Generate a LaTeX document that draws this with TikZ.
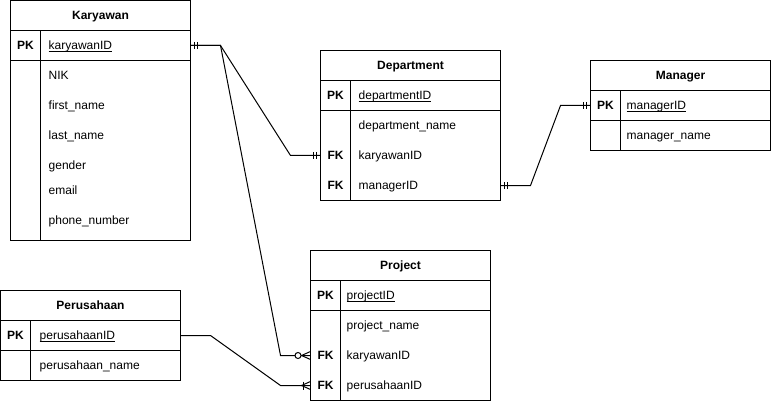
\documentclass[tikz,border=0pt]{standalone}
\usepackage{fontspec}
\setmainfont{Liberation Sans}
\newcommand{\ErFont}{\fontsize{12pt}{14pt}\selectfont}
\newcommand{\KeyName}[1]{\underline{\smash{#1}}}
\tikzset{
  erbox/.style={draw, line width=1pt, inner sep=0pt, outer sep=0pt, anchor=north west},
  headbox/.style={erbox, minimum width=180pt, minimum height=30pt, font=\ErFont\bfseries, text height=8.6pt, text depth=0pt},
  keycell/.style={erbox, minimum width=30pt},
  fieldcell/.style={erbox, minimum width=150pt},
  rowcell/.style={inner sep=0pt, outer sep=0pt, minimum width=180pt, minimum height=1pt, anchor=west},
  keytext/.style={inner sep=0pt, anchor=base, font=\ErFont\bfseries},
  fieldtext/.style={inner sep=0pt, anchor=base west, font=\ErFont},
  relation/.style={line width=1pt},
}
\newcommand{\ErEntity}[5]{
  \node [headbox] (#1) at (#3, #4) {#2};
  \node [keycell, minimum height=30pt] (#1KeyPK) at (#1.south west) {};
  \node [fieldcell, minimum height=30pt] (#1FieldPK) at (#1KeyPK.north east) {};
  \node [keycell, minimum height=#5pt] (#1Keys) at (#1KeyPK.south west) {};
  \node [fieldcell, minimum height=#5pt] (#1Fields) at (#1Keys.north east) {};
}
\newcommand{\ErRow}[6][38]{
  \node [rowcell] (#2) at (#5, #6) {};
  \node [keytext] (#2Key) at ([xshift=15pt, yshift=-4.3pt]#2.west) {#3};
  \node [fieldtext] (#2Field) at ([xshift=#1pt, yshift=-4.3pt]#2.west) {#4};
}
\newcommand{\MandOne}[2]{
  \draw [relation] ([xshift=#2*4pt]#1) ++(0,-3.5) -- ++(0,7);
  \draw [relation] ([xshift=#2*7pt]#1) ++(0,-3.5) -- ++(0,7);
}
\newcommand{\CrowFoot}[2]{
  \draw [relation] ([yshift=4pt]#1) -- ([xshift=#2*9pt]#1) -- ([yshift=-4pt]#1);
}
\newcommand{\ZeroMany}[2]{
  \CrowFoot{#1}{#2}
  \draw [relation, fill=white] ([xshift=#2*12.5pt]#1) circle [radius=3pt];
}
\newcommand{\OneMany}[2]{
  \CrowFoot{#1}{#2}
  \draw [relation] ([xshift=#2*7pt]#1) ++(0,-4) -- ++(0,8);
}
\begin{document}
\begin{tikzpicture}[x=1pt, y=-1pt]
        \path [use as bounding box, fill=white] (0, 0) rectangle (771, 401);

        % Karyawan
        \ErEntity{karyawan}{Karyawan}{10.5}{0.5}{180}
        \ErRow{kKaryawanID}{PK}{\KeyName{karyawanID}}{10.5}{45.5}
        \ErRow{kNIK}{}{NIK}{10.5}{75}
        \ErRow{kFirstName}{}{first\_name}{10.5}{105}
        \ErRow{kLastName}{}{last\_name}{10.5}{135}
        \ErRow{kGender}{}{gender}{10.5}{165}
        \ErRow{kEmail}{}{email}{10.5}{190}
        \ErRow{kPhone}{}{phone\_number}{10.5}{220}

        % Department
        \ErEntity{department}{Department}{320.5}{50.5}{90}
        \ErRow{dDepartmentID}{PK}{\KeyName{departmentID}}{320.5}{95.5}
        \ErRow{dDepartmentName}{}{department\_name}{320.5}{125.5}
        \ErRow{dKaryawanID}{FK}{karyawanID}{320.5}{155.5}
        \ErRow{dManagerID}{FK}{managerID}{320.5}{185.5}

        % Manager
        \ErEntity{manager}{Manager}{590.5}{60.5}{30}
        \ErRow[36]{mManagerID}{PK}{\KeyName{managerID}}{590.5}{105.5}
        \ErRow[36]{mManagerName}{}{manager\_name}{590.5}{135.5}

        % Project
        \ErEntity{project}{Project}{310.5}{250.5}{90}
        \ErRow[36]{pProjectID}{PK}{\KeyName{projectID}}{310.5}{295.5}
        \ErRow[36]{pProjectName}{}{project\_name}{310.5}{325.5}
        \ErRow[36]{pKaryawanID}{FK}{karyawanID}{310.5}{355.5}
        \ErRow[36]{pPerusahaanID}{FK}{perusahaanID}{310.5}{385.5}

        % Perusahaan
        \ErEntity{perusahaan}{Perusahaan}{0.5}{290.5}{30}
        \ErRow[39]{sPerusahaanID}{PK}{\KeyName{perusahaanID}}{0.5}{335.5}
        \ErRow[39]{sPerusahaanName}{}{perusahaan\_name}{0.5}{365.5}

        % relations
        \draw [relation] (kKaryawanID.east) -- ++(30,0) -- ([xshift=-30pt]dKaryawanID.west) -- (dKaryawanID.west);
        \draw [relation] (kKaryawanID.east) -- ++(30,0) -- ([xshift=-30pt]pKaryawanID.west) -- (pKaryawanID.west);
        \draw [relation] (dManagerID.east) -- ++(30,0) -- ([xshift=-30pt]mManagerID.west) -- (mManagerID.west);
        \draw [relation] (sPerusahaanID.east) -- ++(30,0) -- ([xshift=-30pt]pPerusahaanID.west) -- (pPerusahaanID.west);

        \MandOne{kKaryawanID.east}{1}
        \MandOne{dKaryawanID.west}{-1}
        \ZeroMany{pKaryawanID.west}{-1}
        \MandOne{dManagerID.east}{1}
        \MandOne{mManagerID.west}{-1}
        \OneMany{pPerusahaanID.west}{-1}

\end{tikzpicture}
\end{document}
